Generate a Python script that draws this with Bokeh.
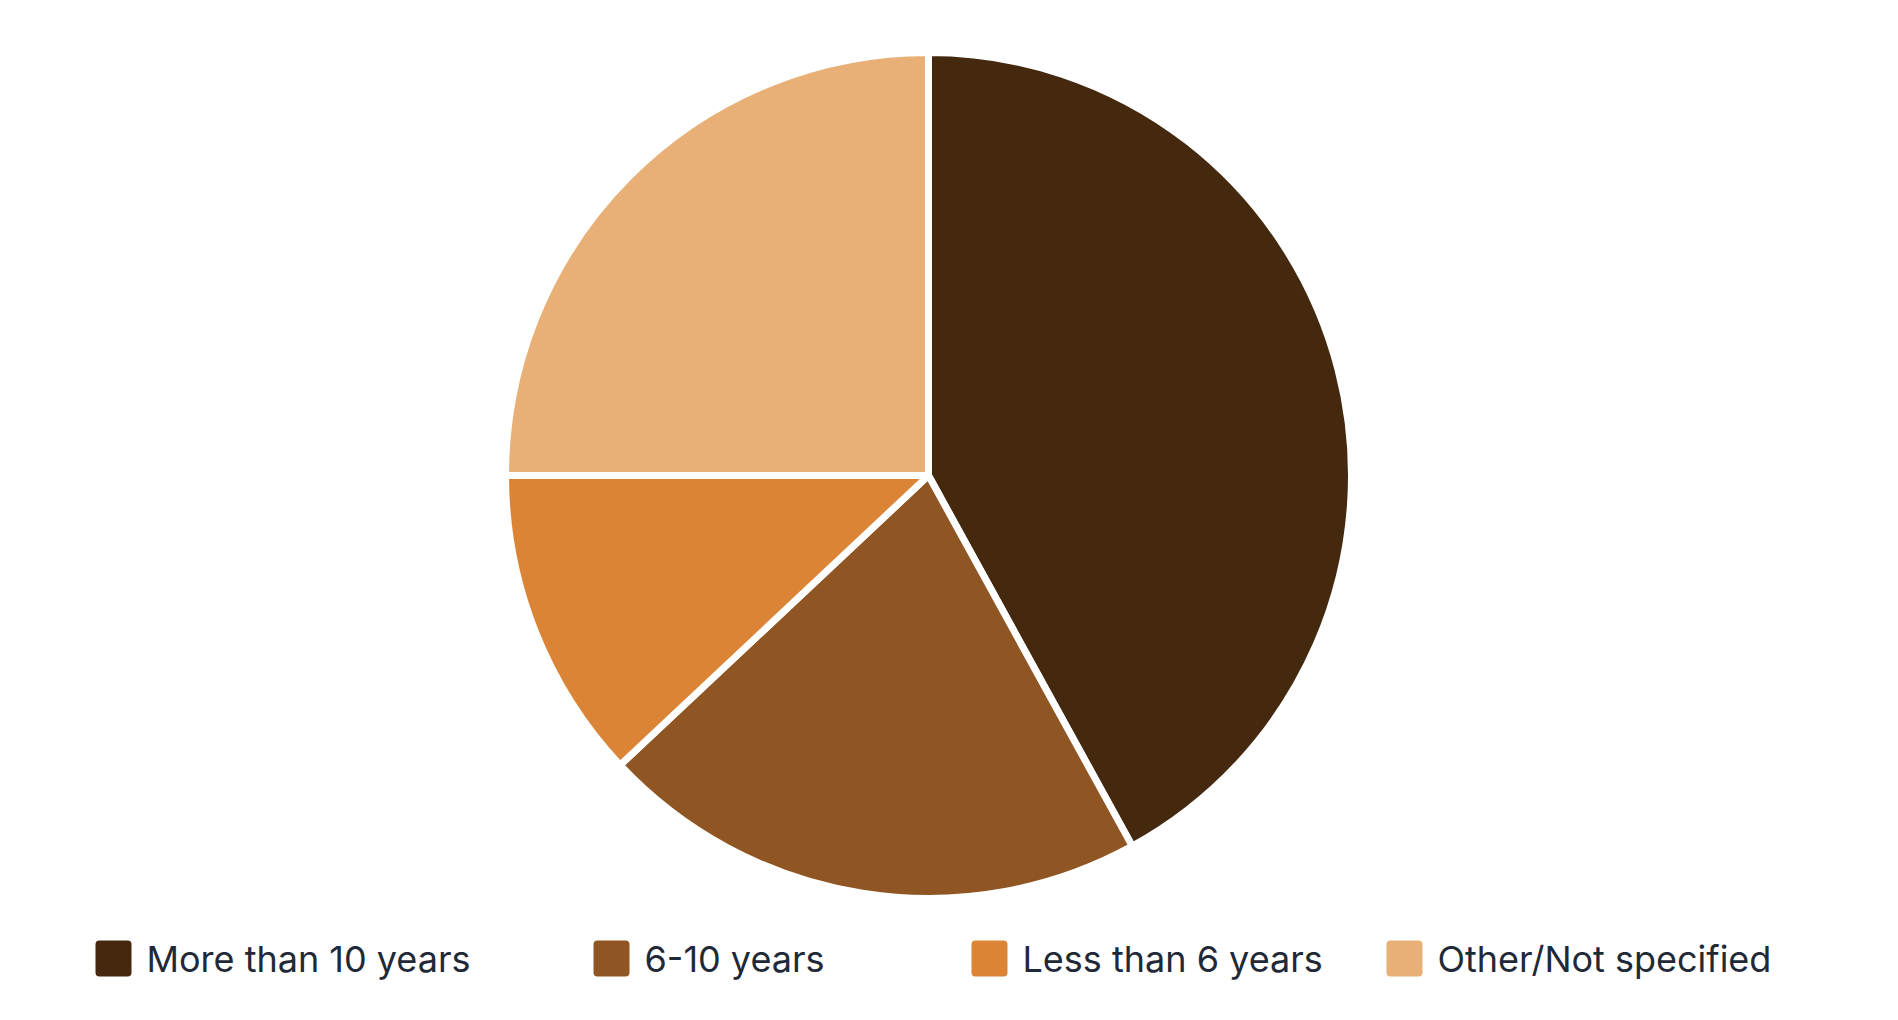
import math
from bokeh.plotting import figure
from bokeh.models import ColumnDataSource, Range1d
from bokeh.core.properties import value
from bokeh.embed import file_html
from bokeh.resources import INLINE

# Data
categories = ["More than 10 years", "6-10 years", "Less than 6 years", "Other/Not specified"]
shares = [42, 21, 12, 25]
colors = ["#44290f", "#8f5623", "#dc8436", "#e8b076"]

# Layout (page pixel coordinates)
W, H = 1882, 1004
cx, cy = 928, H - 475
radius = 423
legend_left = [95, 593, 971, 1386]
legend_y = H - 958
sq = 36

total = float(sum(shares))
starts, ends = [], []
cum = 0.0
for s in shares:
    a0 = math.pi / 2 - 2 * math.pi * (cum + s) / total
    a1 = math.pi / 2 - 2 * math.pi * cum / total
    starts.append(a0)
    ends.append(a1)
    cum += s

src = ColumnDataSource(dict(cat=categories, val=shares, color=colors,
                            start=starts, end=ends))

p = figure(width=W, height=H, output_backend="svg", toolbar_location=None,
           x_range=Range1d(0, W), y_range=Range1d(0, H), min_border=0,
           match_aspect=False)
p.axis.visible = False
p.grid.visible = False
p.outline_line_color = None
p.background_fill_color = "white"
p.border_fill_color = "white"

p.wedge(x=cx, y=cy, radius=radius, start_angle="start", end_angle="end",
        fill_color="color", line_color="white", line_width=7,
        line_join="bevel", source=src)

leg = ColumnDataSource(dict(
    x=[l + sq / 2 for l in legend_left],
    tx=[l + sq + 15 for l in legend_left],
    y=[legend_y] * len(categories),
    text=categories, color=colors))
p.rect(x="x", y="y", width=sq, height=sq, fill_color="color", line_color=None,
       border_radius=4, source=leg)
p.text(x="tx", y="y", text="text", text_baseline="middle", text_align="left",
       text_font=value("Inter"), text_font_size="36px", text_color="#1f2937",
       source=leg)

open("out.html", "w").write(file_html(p, INLINE))
